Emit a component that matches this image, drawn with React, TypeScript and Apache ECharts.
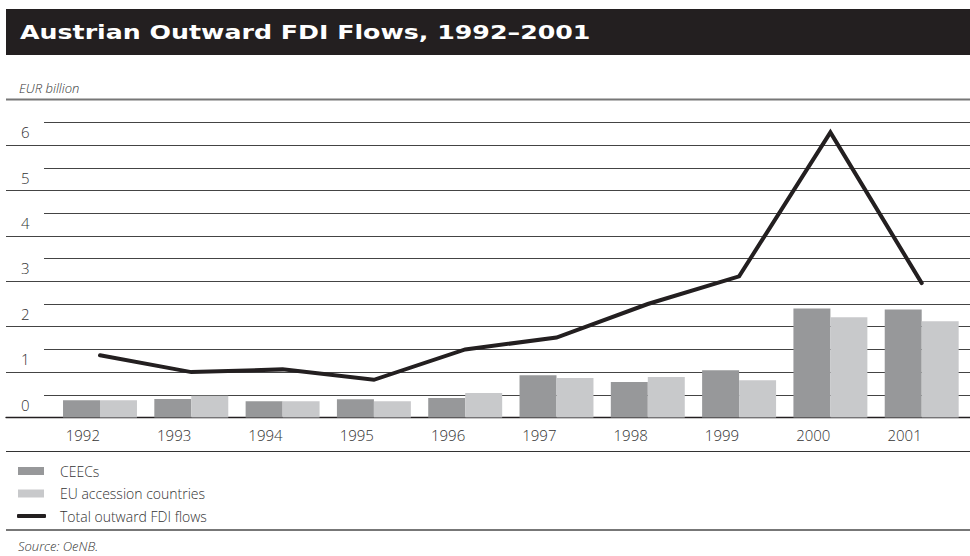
import React, { useEffect, useRef } from "react";
import * as echarts from "echarts";

const years = ["1992", "1993", "1994", "1995", "1996", "1997", "1998", "1999", "2000", "2001"];
const ceecs = [0.38, 0.41, 0.36, 0.4, 0.43, 0.93, 0.78, 1.04, 2.4, 2.38];
const euAccession = [0.38, 0.48, 0.36, 0.36, 0.54, 0.87, 0.89, 0.82, 2.21, 2.12];
const totalOutward = [1.37, 1.0, 1.06, 0.83, 1.5, 1.76, 2.5, 3.11, 6.28, 2.96];
const yTicks = [0, 1, 2, 3, 4, 5, 6];

const TITLE = "Austrian Outward FDI Flows, 1992–2001";
const UNIT = "EUR billion";
const SOURCE = "Source: OeNB.";
const FONT = "'Open Sans', 'Noto Sans', sans-serif";

export default function App() {
  const ref = useRef<HTMLDivElement>(null);

  useEffect(() => {
    if (!ref.current) return;
    const chart = echarts.init(ref.current, undefined, { renderer: "svg" });
    const zeroY = 417.5;
    const unit = 45.4;
    const topMajor = zeroY - unit * yTicks[yTicks.length - 1];
    const topMinor = zeroY - unit * 6.5;

    const legendText = (pad: number) => ({
      color: "#333",
      fontSize: 14,
      fontFamily: FONT,
      fontWeight: 300,
      lineHeight: 16,
      padding: [0, 0, 0, pad],
    });

    chart.setOption({
      animation: false,
      backgroundColor: "#ffffff",
      grid: [
        { left: 6, right: 0, top: topMajor, height: zeroY - topMajor },
        { left: 44, right: 0, top: topMinor, height: zeroY - topMinor },
        { left: 54.35, right: 2.65, top: topMinor, height: zeroY - topMinor },
      ],
      xAxis: [
        {
          gridIndex: 0,
          type: "value",
          min: 0,
          max: 1,
          axisLine: { show: true, lineStyle: { color: "#231f20", width: 1.3 } },
          axisTick: { show: false },
          axisLabel: { show: false },
          splitLine: { show: false },
        },
        { gridIndex: 1, type: "value", min: 0, max: 1, show: false },
        {
          gridIndex: 2,
          type: "category",
          data: years,
          axisLine: { show: false },
          axisTick: { show: false },
          axisLabel: {
            interval: 0,
            align: "right",
            margin: 10,
            color: "#333",
            fontSize: 15,
            fontFamily: FONT,
            fontWeight: 300,
          },
        },
      ],
      yAxis: [
        {
          gridIndex: 0,
          type: "value",
          min: 0,
          max: yTicks[yTicks.length - 1],
          interval: 1,
          axisLine: { show: false },
          axisTick: { show: false },
          splitLine: { show: true, lineStyle: { color: "#444", width: 1 } },
          axisLabel: {
            inside: true,
            margin: 15,
            color: "#333",
            fontSize: 15,
            fontFamily: FONT,
            fontWeight: 300,
            verticalAlign: "bottom",
            lineHeight: 26,
          },
        },
        {
          gridIndex: 1,
          type: "value",
          min: 0,
          max: 6.5,
          interval: 0.5,
          axisLine: { show: false },
          axisTick: { show: false },
          axisLabel: { show: false },
          splitLine: { show: true, lineStyle: { color: "#444", width: 1 } },
        },
        { gridIndex: 2, type: "value", min: 0, max: 6.5, show: false },
      ],
      legend: [
        {
          data: ["CEECs"],
          left: 18,
          top: 463,
          padding: 0,
          itemWidth: 26,
          itemHeight: 8,
          icon: "rect",
          textStyle: legendText(11),
        },
        {
          data: ["EU accession countries"],
          left: 18,
          top: 485.5,
          padding: 0,
          itemWidth: 26,
          itemHeight: 8,
          icon: "rect",
          textStyle: legendText(11),
        },
        {
          data: [{ name: "Total outward FDI flows", icon: "roundRect" }],
          left: 17,
          top: 508,
          padding: 0,
          itemWidth: 29,
          itemHeight: 4,
          textStyle: legendText(9),
        },
      ],
      series: [
        {
          name: "CEECs",
          type: "bar",
          xAxisIndex: 2,
          yAxisIndex: 2,
          data: ceecs,
          barGap: "0%",
          barCategoryGap: "19%",
          itemStyle: { color: "#97989a" },
        },
        {
          name: "EU accession countries",
          type: "bar",
          xAxisIndex: 2,
          yAxisIndex: 2,
          data: euAccession,
          barGap: "0%",
          barCategoryGap: "19%",
          itemStyle: { color: "#c8c9cb" },
        },
        {
          name: "Total outward FDI flows",
          type: "line",
          xAxisIndex: 2,
          yAxisIndex: 2,
          data: totalOutward,
          symbol: "none",
          z: 5,
          itemStyle: { color: "#231f20" },
          lineStyle: { color: "#231f20", width: 4, cap: "round", join: "miter" },
        },
      ],
      graphic: [
        { type: "rect", shape: { x: 6, y: 9, width: 964, height: 46 }, style: { fill: "#231f20" } },
        {
          type: "text",
          x: 20,
          y: 32,
          scaleX: 1.33,
          style: {
            text: TITLE,
            fill: "#ffffff",
            font: "900 19px 'DejaVu Sans', sans-serif",
            verticalAlign: "middle",
          },
        },
        {
          type: "text",
          x: 19,
          y: 88,
          style: {
            text: UNIT,
            fill: "#333",
            font: "italic 300 13px 'Open Sans', sans-serif",
            verticalAlign: "middle",
          },
        },
        { type: "line", shape: { x1: 6, y1: 99.5, x2: 970, y2: 99.5 }, style: { stroke: "#777", lineWidth: 2 } },
        { type: "line", shape: { x1: 6, y1: 451.5, x2: 970, y2: 451.5 }, style: { stroke: "#333", lineWidth: 1 } },
        { type: "line", shape: { x1: 6, y1: 530, x2: 970, y2: 530 }, style: { stroke: "#777", lineWidth: 2 } },
        {
          type: "text",
          x: 18,
          y: 546,
          style: {
            text: SOURCE,
            fill: "#333",
            font: "italic 300 13px 'Open Sans', sans-serif",
            verticalAlign: "middle",
          },
        },
      ],
    });
    return () => chart.dispose();
  }, []);

  return (
    <div
      ref={ref}
      style={{ position: "fixed", left: 0, top: 0, width: 970, height: 556, background: "#fff" }}
    />
  );
}
